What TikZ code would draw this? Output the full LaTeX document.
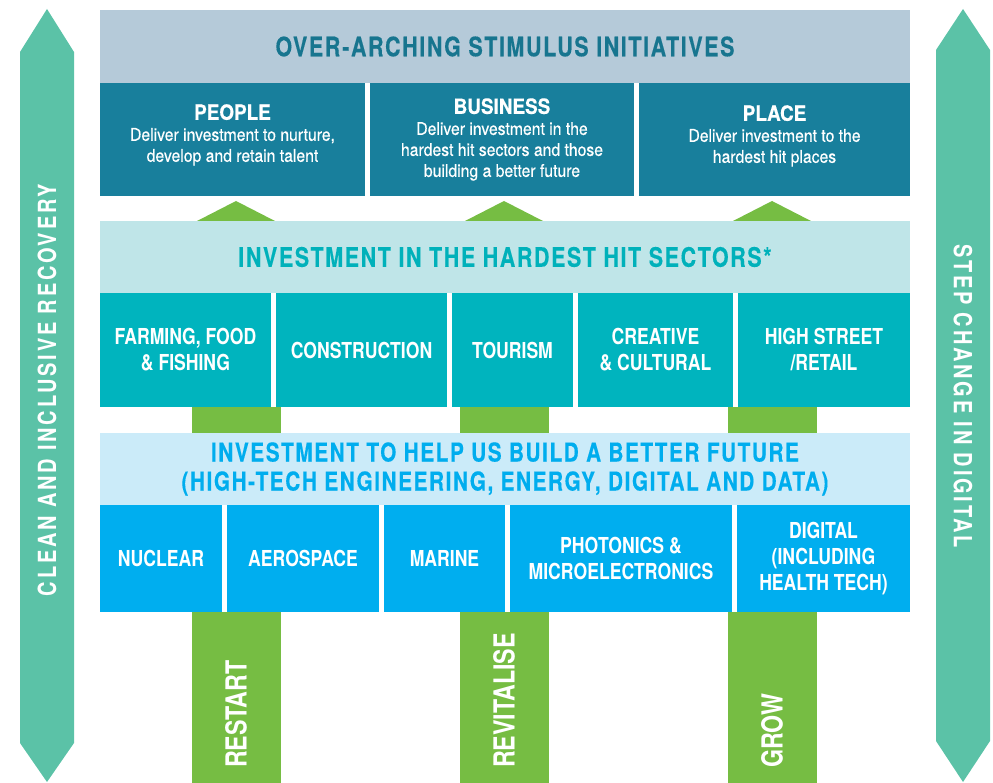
\documentclass[tikz,border=0pt]{standalone}
\usepackage{fontspec}
\setmainfont{TeX Gyre Heros}[FakeStretch=0.8]
\newfontfamily\trackedfont{TeX Gyre Heros}[FakeStretch=0.8, LetterSpace=6, FakeBold=0.3]
\newfontfamily\sidefont{TeX Gyre Heros}[FakeStretch=0.8, LetterSpace=11]
\newfontfamily\subfont{TeX Gyre Heros}[FakeStretch=0.9, FakeBold=0.4]
\usetikzlibrary{positioning}
\definecolor{sidegreen}{RGB}{91,194,167}
\definecolor{leafgreen}{RGB}{118,189,67}
\definecolor{stimgrey}{RGB}{181,202,217}
\definecolor{stimtext}{RGB}{23,117,143}
\definecolor{stimbox}{RGB}{24,127,156}
\definecolor{hardgrey}{RGB}{191,229,232}
\definecolor{hardtext}{RGB}{0,177,186}
\definecolor{hardbox}{RGB}{0,180,190}
\definecolor{futgrey}{RGB}{203,235,249}
\definecolor{futtext}{RGB}{0,173,238}
\definecolor{futbox}{RGB}{0,174,239}
\newcommand{\titlesize}{\fontsize{26.8}{29}\selectfont}
\newcommand{\pillarsize}{\fontsize{21}{21}\selectfont}
\newcommand{\subsize}{\fontsize{17.5}{21}\selectfont}
\newcommand{\sectorsize}{\fontsize{22}{26}\selectfont}

\begin{document}
\begin{tikzpicture}[x=1pt, y=-1pt,
        headnode/.style={anchor=north west, minimum width=810pt, minimum height=72pt, inner sep=0pt, outer sep=0pt, align=center, font=\trackedfont\bfseries\titlesize},
        pillarnode/.style={minimum height=113pt, inner sep=0pt, outer sep=0pt, fill=stimbox, text=white, align=center, font=\subfont\subsize},
        sectornode/.style={minimum height=114pt, inner sep=0pt, outer sep=0pt, fill=hardbox, text=white, align=center, font=\bfseries\sectorsize},
        technode/.style={minimum height=107pt, inner sep=0pt, outer sep=0pt, fill=futbox, text=white, align=center, font=\bfseries\sectorsize},
        sidenode/.style={text=white, font=\sidefont\bfseries\fontsize{25}{25}\selectfont, inner sep=0pt},
        leafnode/.style={text=white, font=\bfseries\fontsize{29}{29}\selectfont, inner sep=0pt, rotate=90, anchor=west}]
        \useasboundingbox (0,0) rectangle (993,783);
        % side arrows
        \fill[sidegreen] (47,9) -- (74,52) -- (74,743) -- (47,782) -- (20,743) -- (20,52) -- cycle;
        \fill[sidegreen] (963,9) -- (990,50) -- (990,741) -- (963,782) -- (936,741) -- (936,50) -- cycle;
        \node[sidenode, rotate=90] (clean) at (47,390) {CLEAN AND INCLUSIVE RECOVERY};
        \node[sidenode, rotate=-90] (digital) at (963,396) {STEP CHANGE IN DIGITAL};
        % stimulus initiatives
        \node[headnode, fill=stimgrey, text=stimtext, minimum height=73pt] (stimulus) at (100,10) {OVER-ARCHING STIMULUS INITIATIVES};
        \node[pillarnode, minimum width=265pt, text depth=13pt] (people) [anchor=north west] at (stimulus.south west) {{\bfseries\pillarsize PEOPLE}\\Deliver investment to nurture,\\develop and retain talent};
        \node[pillarnode, minimum width=264pt] (business) [right=5pt of people] {{\bfseries\pillarsize BUSINESS}\\Deliver investment in the\\hardest hit sectors and those\\building a better future};
        \node[pillarnode, minimum width=271pt, text depth=11pt] (place) [right=5pt of business] {{\bfseries\pillarsize PLACE}\\Deliver investment to the\\hardest hit places};
        % hardest hit sectors
        \node[headnode, fill=hardgrey, text=hardtext] (hardhit) [below right=25pt and 0pt of people.south west] {INVESTMENT IN THE HARDEST HIT SECTORS*};
        \node[sectornode, minimum width=171pt] (farming) [anchor=north west] at (hardhit.south west) {FARMING, FOOD\\\& FISHING};
        \node[sectornode, minimum width=171pt] (construction) [right=5pt of farming] {CONSTRUCTION};
        \node[sectornode, minimum width=121pt] (tourism) [right=5pt of construction] {TOURISM};
        \node[sectornode, minimum width=155pt] (creative) [right=5pt of tourism] {CREATIVE\\\& CULTURAL};
        \node[sectornode, minimum width=172pt] (retail) [right=5pt of creative] {HIGH STREET\\/RETAIL};
        % better future
        \node[headnode, fill=futgrey, text=futtext, font=\trackedfont\bfseries\fontsize{26}{29}\selectfont] (future) [below right=26pt and 0pt of farming.south west] {INVESTMENT TO HELP US BUILD A BETTER FUTURE\\(HIGH-TECH ENGINEERING, ENERGY, DIGITAL AND DATA)};
        \node[technode, minimum width=122pt] (nuclear) [anchor=north west] at (future.south west) {NUCLEAR};
        \node[technode, minimum width=152pt] (aerospace) [right=5pt of nuclear] {AEROSPACE};
        \node[technode, minimum width=121pt] (marine) [right=5pt of aerospace] {MARINE};
        \node[technode, minimum width=222pt] (photonics) [right=5pt of marine] {PHOTONICS \&\\MICROELECTRONICS};
        \node[technode, minimum width=173pt] (health) [right=5pt of photonics] {DIGITAL\\(INCLUDING\\HEALTH TECH)};
        % green pillars
        \foreach \c/\word [count=\i] in {236/RESTART, 504/REVITALISE, 772/GROW} {
            \fill[leafgreen] (\c-39,221) -- (\c,201) -- (\c+39,221) -- cycle;
            \fill[leafgreen] (\c-44.5,407) rectangle (\c+44.5,433);
            \fill[leafgreen] (\c-44.5,612) rectangle (\c+44.5,783);
            \node[leafnode] (leaf\i) at (\c,768) {\word};
        }
\end{tikzpicture}
\end{document}
